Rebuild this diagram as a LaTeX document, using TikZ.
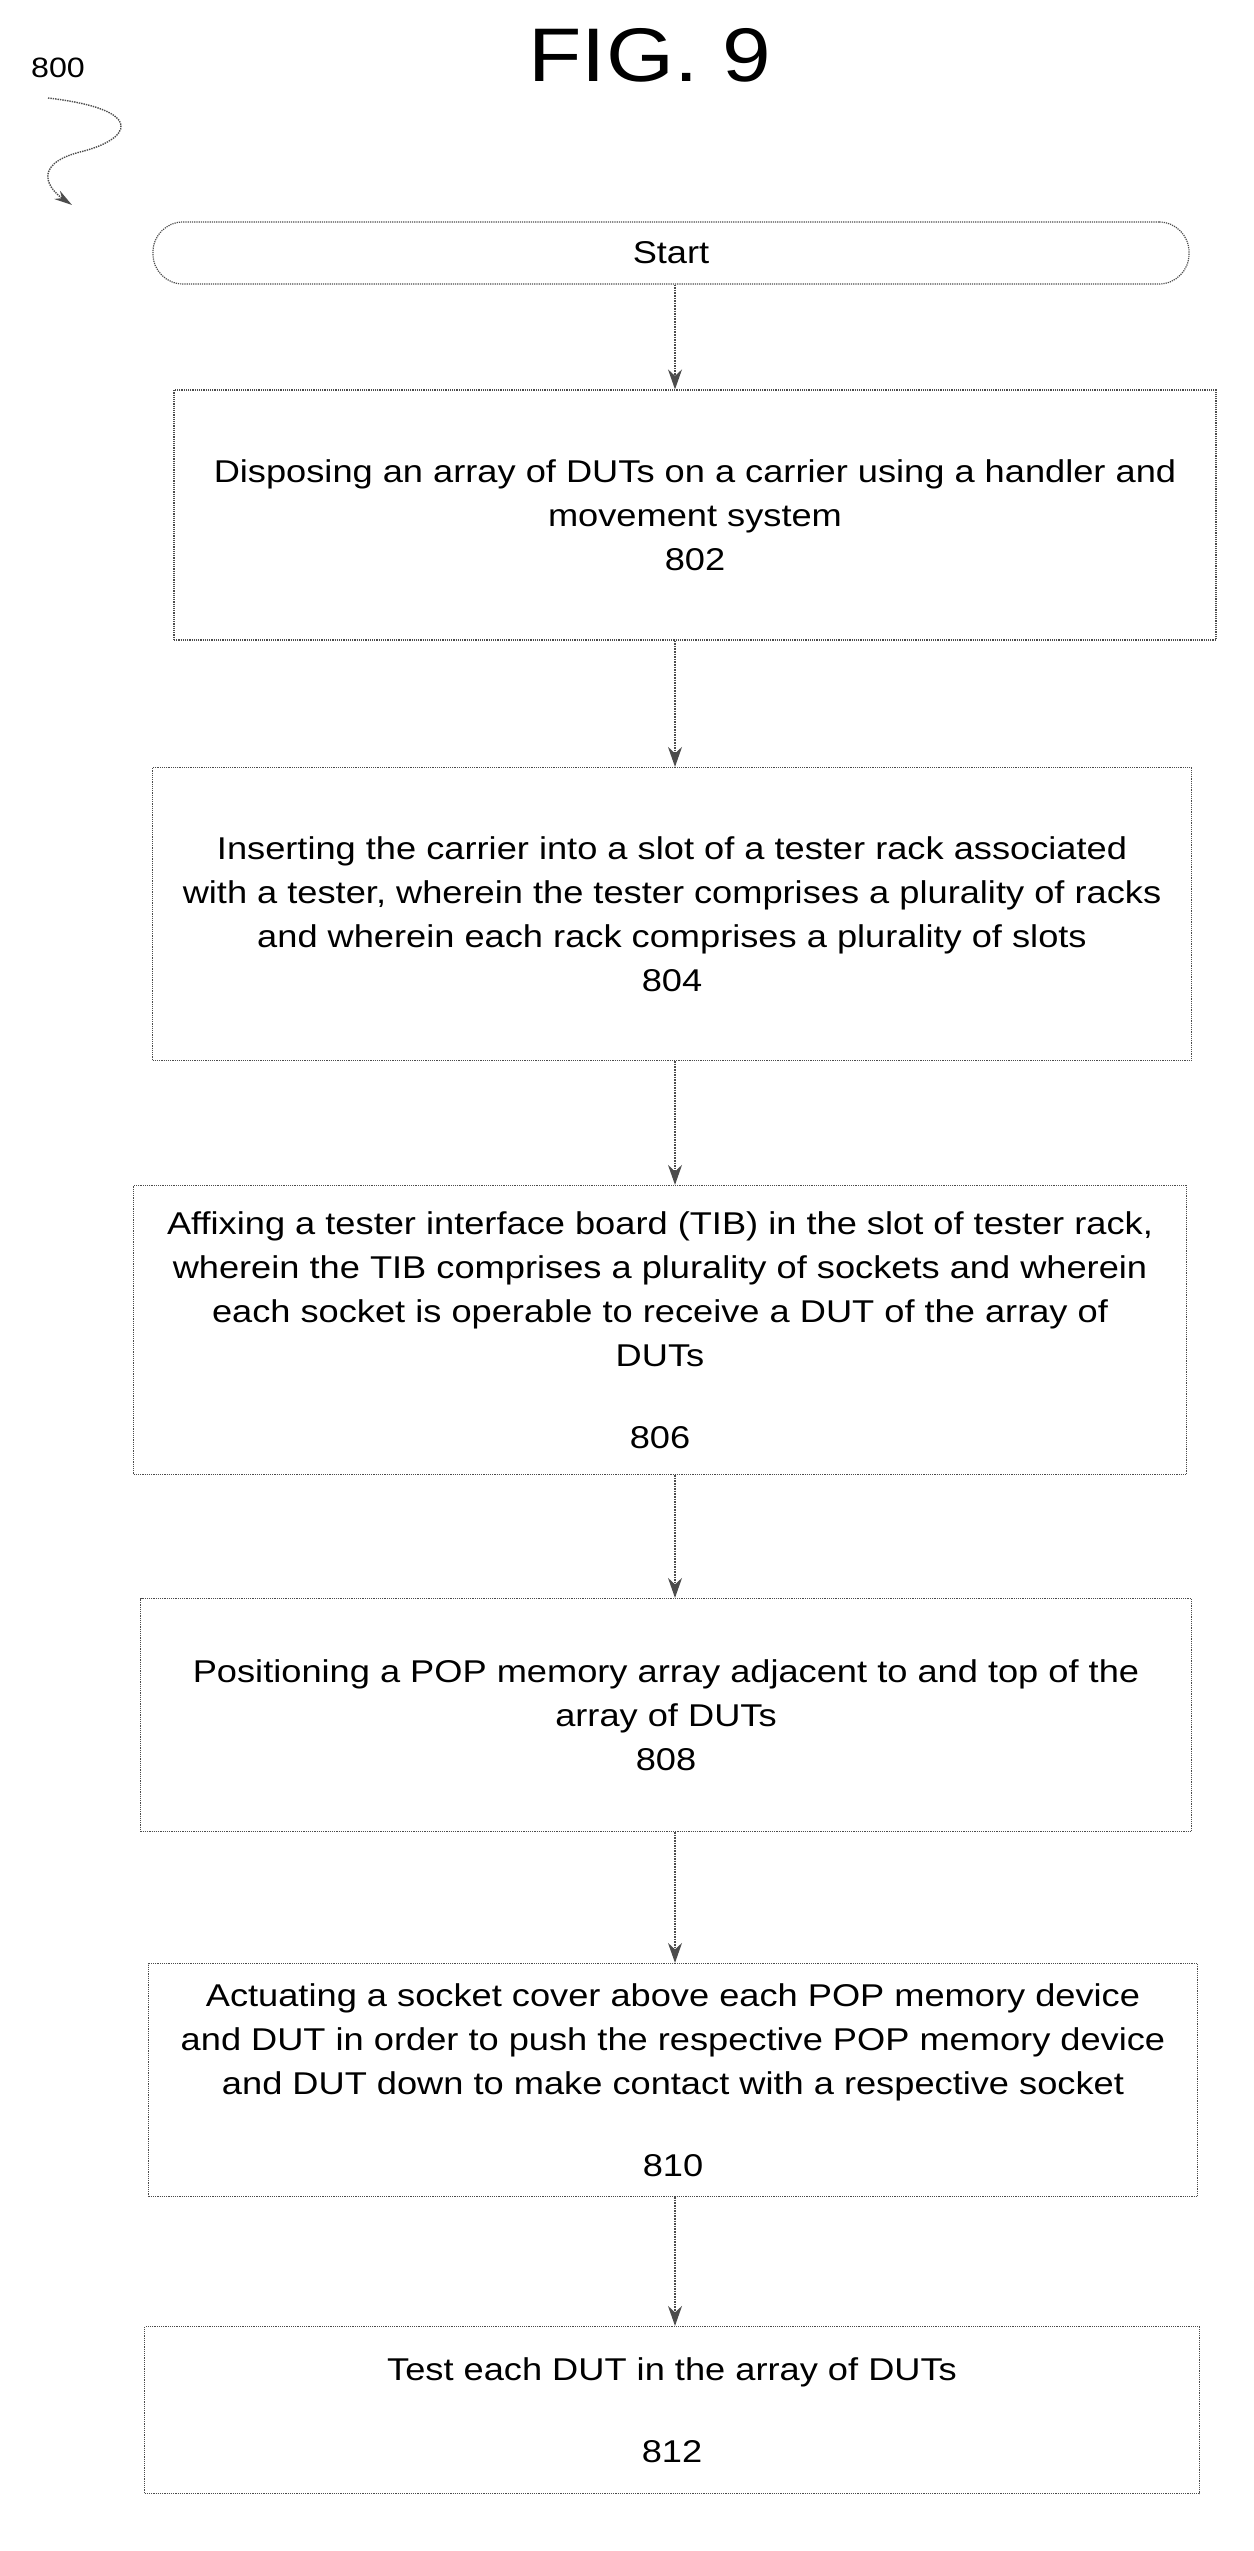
\documentclass[tikz,border=0pt]{standalone}
\usepackage{fontspec}
\setmainfont{Liberation Sans}[FakeStretch=1.15]
\usetikzlibrary{positioning,arrows.meta}
\tikzset{
    stepbox/.style={draw=black!70, densely dotted, line width=1.2pt, align=center, inner sep=0pt},
    flow/.style={draw=black!70, densely dotted, line width=1.6pt, -{Stealth[length=20pt,width=14pt]}},
}
\begin{document}
\begin{tikzpicture}[x=1pt,y=-1pt,font=\fontsize{31.5}{44}\selectfont]
        \useasboundingbox (0,0) rectangle (1253,2551);

        % Title and reference number
        \node (fig) at (650,55) {\fontsize{76}{90}\selectfont FIG.\ 9};
        \node (ref) at (58,68) {\fontsize{28}{36}\selectfont 800};
        \coordinate (sq) at (72,205);
        \draw[draw=black!70, densely dotted, line width=1.4pt, -{Stealth[length=18pt,width=10pt]}]
            (48,98) .. controls (150,110) and (130,140) .. (80,152) .. controls (30,165) and (50,190) .. (sq);

        % Boxes
        \node[stepbox, rounded corners=30pt, minimum width=1036, minimum height=62] (start) at (671,253) {Start};
        \node[stepbox, minimum width=1042, minimum height=250] (s802) at (695,515)
            {Disposing an array of DUTs on a carrier using a handler and\\movement system\\802};
        \node[stepbox, minimum width=1039, minimum height=293] (s804) at (672,914)
            {Inserting the carrier into a slot of a tester rack associated\\with a tester, wherein the tester comprises a plurality of racks\\and wherein each rack comprises a plurality of slots\\804};
        \node[stepbox, minimum width=1053, minimum height=289] (s806) at (660,1330)
            {Affixing a tester interface board (TIB) in the slot of tester rack,\\wherein the TIB comprises a plurality of sockets and wherein\\each socket is operable to receive a DUT of the array of\\DUTs\\[38pt]806};
        \node[stepbox, minimum width=1051, minimum height=233] (s808) at (666,1715)
            {Positioning a POP memory array adjacent to and top of the\\array of DUTs\\808};
        \node[stepbox, minimum width=1049, minimum height=233] (s810) at (673,2080)
            {Actuating a socket cover above each POP memory device\\and DUT in order to push the respective POP memory device\\and DUT down to make contact with a respective socket\\[38pt]810};
        \node[stepbox, minimum width=1055, minimum height=167] (s812) at (672,2410)
            {Test each DUT in the array of DUTs\\[38pt]812};

        % Connectors
        \coordinate (col) at (675,0);
        \foreach \a/\b in {start/s802,s802/s804,s804/s806,s806/s808,s808/s810,s810/s812} {
            \draw[flow] (\a.south -| col) -- (\b.north -| col);
        }
    \end{tikzpicture}
\end{document}
